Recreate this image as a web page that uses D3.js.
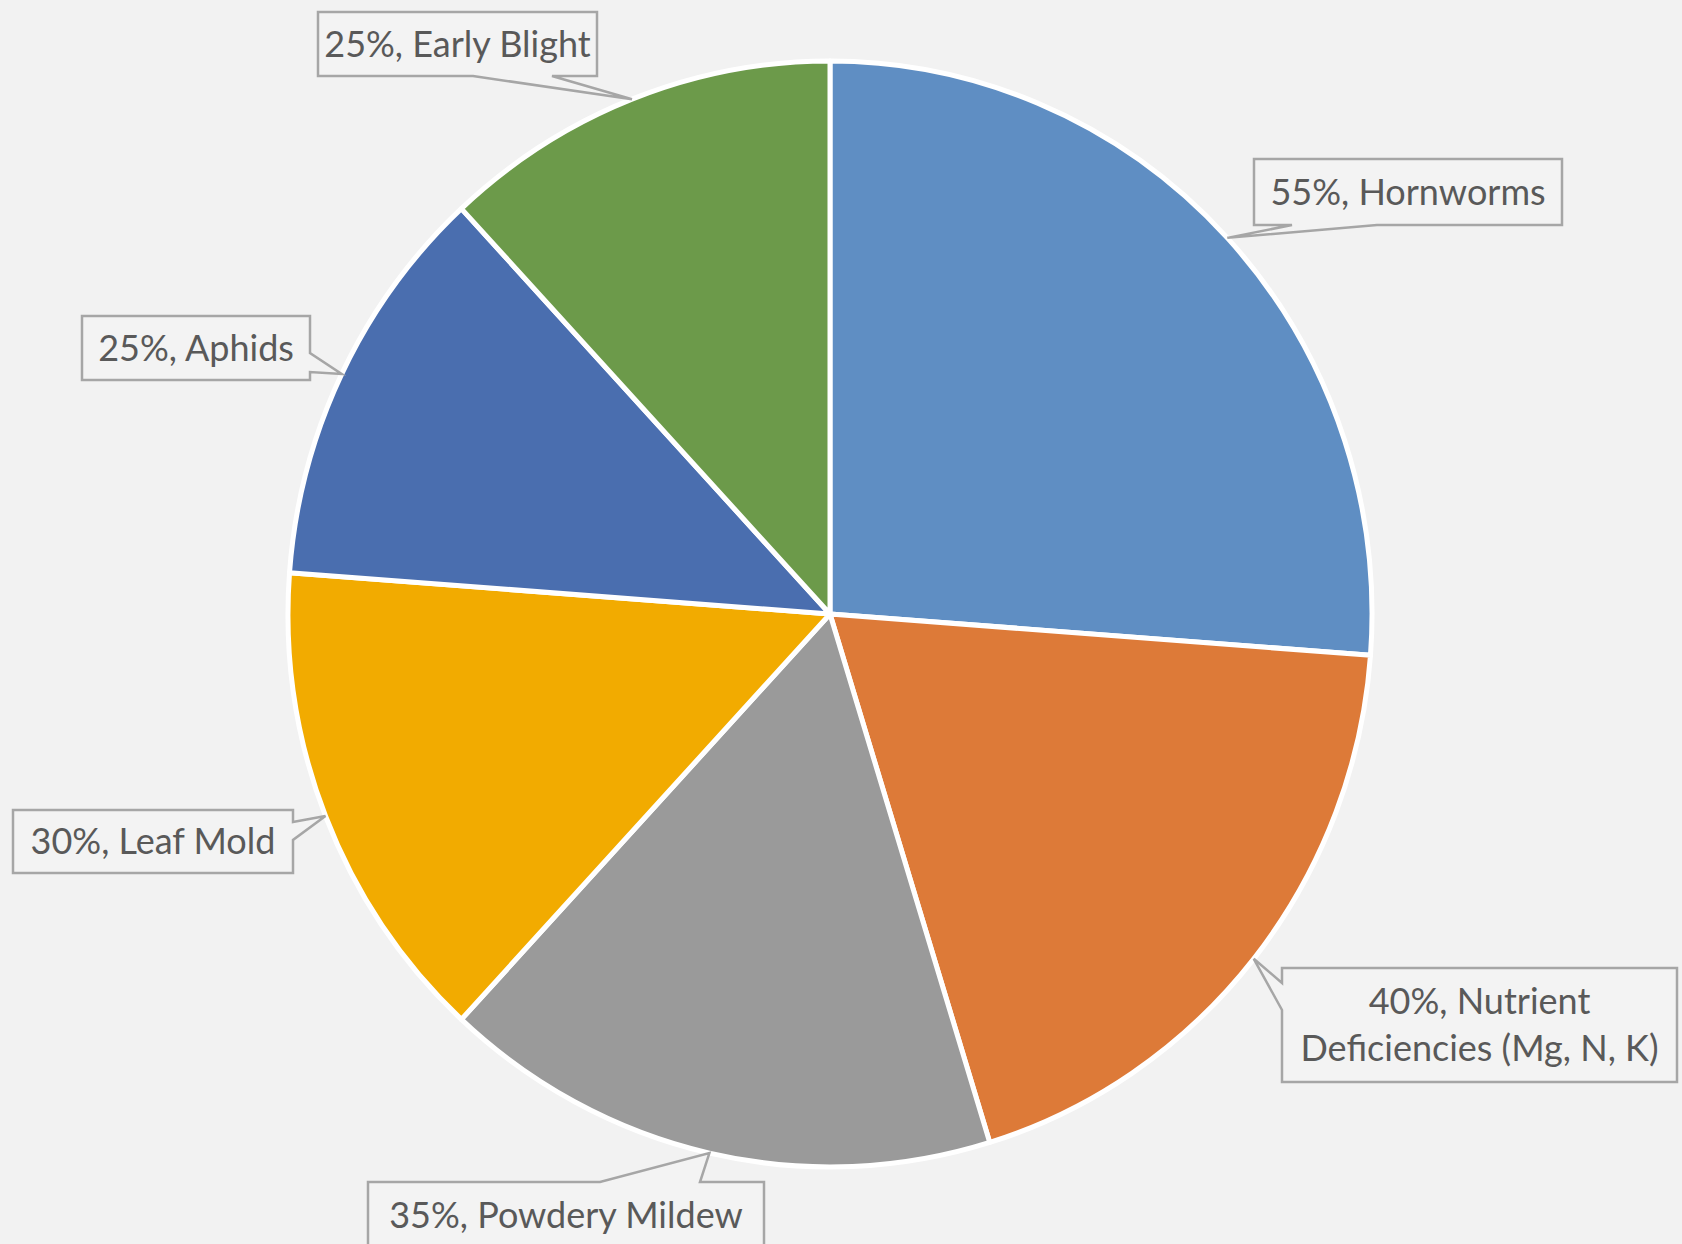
<!DOCTYPE html>
<html>
<head>
<meta charset="utf-8">
<script src="https://cdn.jsdelivr.net/npm/d3@7"></script>
<style>
  html, body { margin: 0; padding: 0; background: #f2f2f2; }
  svg { display: block; }
  text { font-family: Lato, "Open Sans", sans-serif; fill: #595959; }
</style>
</head>
<body>
<svg id="chart" width="1682" height="1244"></svg>
<script>
// Problems reported by growers (share of respondents, %)
const categories = [
  "Hornworms",
  "Nutrient Deficiencies (Mg, N, K)",
  "Powdery Mildew",
  "Leaf Mold",
  "Aphids",
  "Early Blight"
];
const values = [55, 40, 35, 30, 25, 25];
const colors = ["#5f8ec3", "#dd7a38", "#9a9a9a", "#f2ab00", "#4a6eaf", "#6c9a4a"];

// Callout boxes: rectangle, the side the pointer leaves from, and the pointer base on that side
const callouts = [
  { x: 1254, y: 159, w: 308, h: 66, side: "bottom", a: 1377, b: 1292 },
  { x: 1282, y: 968, w: 395, h: 114, side: "left", a: 1010, b: 983 },
  { x: 368, y: 1182, w: 396, h: 66, side: "top", a: 600, b: 700 },
  { x: 13, y: 810, w: 280, h: 63, side: "right", a: 822, b: 840 },
  { x: 82, y: 316, w: 228, h: 64, side: "right", a: 353, b: 372 },
  { x: 318, y: 12, w: 279, h: 64, side: "bottom", a: 552, b: 473 }
];

const fontSize = 36;
const cx = 830, cy = 614, radius = 542, yStretch = 553 / 542;
const svg = d3.select("#chart");

const pie = d3.pie().sort(null).value(d => d.value);
const arcs = pie(categories.map((c, i) => ({ name: c, value: values[i] })));
const arc = d3.arc().innerRadius(0).outerRadius(radius);

const g = svg.append("g")
  .attr("transform", `translate(${cx},${cy}) scale(1,${yStretch})`);

g.selectAll("path.slice")
  .data(arcs)
  .join("path")
  .attr("class", "slice")
  .attr("d", arc)
  .attr("fill", (d, i) => colors[i])
  .attr("stroke", "#ffffff")
  .attr("stroke-width", 5)
  .attr("stroke-linejoin", "round");

// Point on the slice rim at the middle angle, in page coordinates
function rimPoint(d) {
  const ang = (d.startAngle + d.endAngle) / 2;
  return [cx + radius * Math.sin(ang), cy - radius * Math.cos(ang) * yStretch];
}

// Outline of a callout: rectangle walked clockwise with the pointer inserted on one side
function calloutPath(c, tip) {
  const x0 = c.x, y0 = c.y, x1 = c.x + c.w, y1 = c.y + c.h;
  const p = d3.path();
  p.moveTo(x0, y0);
  if (c.side === "top") { p.lineTo(c.a, y0); p.lineTo(tip[0], tip[1]); p.lineTo(c.b, y0); }
  p.lineTo(x1, y0);
  if (c.side === "right") { p.lineTo(x1, c.a); p.lineTo(tip[0], tip[1]); p.lineTo(x1, c.b); }
  p.lineTo(x1, y1);
  if (c.side === "bottom") { p.lineTo(c.a, y1); p.lineTo(tip[0], tip[1]); p.lineTo(c.b, y1); }
  p.lineTo(x0, y1);
  if (c.side === "left") { p.lineTo(x0, c.a); p.lineTo(tip[0], tip[1]); p.lineTo(x0, c.b); }
  p.closePath();
  return p.toString();
}

const labels = svg.append("g");
arcs.forEach((d, i) => {
  const c = callouts[i];
  const tip = rimPoint(d);
  labels.append("path")
    .attr("d", calloutPath(c, tip))
    .attr("fill", "#f3f3f3")
    .attr("stroke", "#a6a6a6")
    .attr("stroke-width", 2.5)
    .attr("stroke-linejoin", "miter");

  const full = `${values[i]}%, ${categories[i]}`;
  const t = labels.append("text")
    .attr("text-anchor", "middle")
    .attr("font-size", fontSize);

  // wrap words to the box width
  const words = full.split(" ");
  const lines = [];
  let cur = [];
  const probe = labels.append("text").attr("font-size", fontSize);
  words.forEach(w => {
    const trial = cur.concat([w]).join(" ");
    probe.text(trial);
    if (cur.length && probe.node().getComputedTextLength() > c.w - 6) {
      lines.push(cur.join(" "));
      cur = [w];
    } else cur.push(w);
  });
  lines.push(cur.join(" "));
  probe.remove();

  const lineH = 47;
  const midY = c.y + c.h / 2;
  const firstY = midY - (lines.length - 1) * lineH / 2;
  lines.forEach((ln, k) => {
    t.append("tspan")
      .attr("x", c.x + c.w / 2)
      .attr("y", firstY + k * lineH)
      .attr("dy", "0.36em")
      .text(ln);
  });
});
</script>
</body>
</html>
